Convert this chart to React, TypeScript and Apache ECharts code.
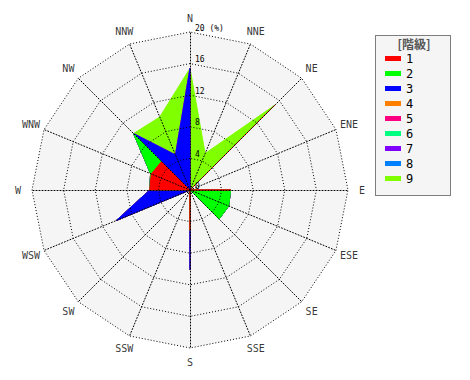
import React, { useEffect, useRef } from "react";
import * as echarts from "echarts";

// Directions, clockwise from north
const directions = ["N", "NNE", "NE", "ENE", "E", "ESE", "SE", "SSE", "S", "SSW", "SW", "WSW", "W", "WNW", "NW", "NNW"];
const classNames = ["1", "2", "3", "4", "5", "6", "7", "8", "9"];
const classColors = ["#ff0000", "#00ff00", "#0000ff", "#ff8000", "#ff0080", "#00ff80", "#8000ff", "#0080ff", "#80ff00"];

// Cumulative frequency (%) per class, clockwise from N
const class1 = [0, 0, 15.2, 0, 5.15, 0, 0, 0, 5.1, 0, 0, 0, 5.1, 5.3, 5.1, 0];
const class2 = [0, 0, 15.2, 0, 5.15, 5.3, 5.2, 0, 5.1, 0, 0, 0, 5.1, 5.4, 10.1, 0];
const class3 = [15.4, 0, 15.2, 0, 5.15, 5.3, 5.2, 0, 10.1, 0, 0, 10.1, 5.1, 5.4, 10.1, 4.8];
const class4 = [15.4, 0, 15.2, 0, 5.15, 5.3, 5.2, 0, 10.1, 0, 0, 10.1, 5.1, 5.4, 10.1, 4.8];
const class5 = [15.4, 0, 15.2, 0, 5.15, 5.3, 5.2, 0, 10.1, 0, 0, 10.1, 5.1, 5.4, 10.1, 4.8];
const class6 = [15.4, 0, 15.2, 0, 5.15, 5.3, 5.2, 0, 10.1, 0, 0, 10.1, 5.1, 5.4, 10.1, 4.8];
const class7 = [15.4, 0, 15.2, 0, 5.15, 5.3, 5.2, 0, 10.1, 0, 0, 10.1, 5.1, 5.4, 10.1, 4.8];
const class8 = [15.4, 0, 15.2, 0, 5.15, 5.3, 5.2, 0, 10.1, 0, 0, 10.1, 5.1, 5.4, 10.1, 4.8];
const class9 = [15.4, 5.0, 15.2, 0, 5.15, 5.3, 5.2, 0, 10.1, 0, 0, 10.1, 5.1, 5.4, 10.1, 10.0];

const axisMax = 20;
const axisSplit = 5;

export default function App() {
  const ref = useRef<HTMLDivElement>(null);

  useEffect(() => {
    if (!ref.current) return;
    const chart = echarts.init(ref.current, undefined, { renderer: "svg" });
    const allClasses = [class1, class2, class3, class4, class5, class6, class7, class8, class9];
    // radar indicators run counter-clockwise: N, NNW, NW, ...
    const order = [0];
    for (let i = directions.length - 1; i >= 1; i--) order.push(i);

    const baseIndicator = () => order.map((idx) => ({ name: directions[idx], max: axisMax, min: 0 } as any));
    const overlayIndicator = baseIndicator();
    overlayIndicator[0].axisLabel = {
      show: true,
      color: "#000",
      fontSize: 8,
      fontFamily: "DejaVu Sans Mono",
      align: "left",
      verticalAlign: "bottom",
      margin: -5,
      formatter: (v: number) => (v === axisMax ? v + " (%)" : String(v)),
    };

    const center = [190, 190];
    const radius = 158;
    const dotted = { color: "#000", type: [1, 2], width: 1 };

    const data = allClasses
      .map((vals, i) => ({
        name: classNames[i],
        value: order.map((idx) => vals[idx]),
        itemStyle: { color: classColors[i] },
        lineStyle: { color: classColors[i], width: 1 },
        areaStyle: { color: classColors[i], opacity: 1 },
      }))
      .reverse();

    chart.setOption({
      animation: false,
      radar: [
        {
          z: 0,
          center,
          radius,
          shape: "polygon",
          splitNumber: axisSplit,
          indicator: baseIndicator(),
          axisName: { show: false },
          axisLine: { show: false },
          splitLine: { show: false },
          splitArea: { show: true, areaStyle: { color: ["#f5f5f5"] } },
          axisLabel: { show: false },
        },
        {
          z: 5,
          center,
          radius,
          shape: "polygon",
          splitNumber: axisSplit,
          indicator: overlayIndicator,
          axisName: { show: false },
          axisLine: { lineStyle: dotted },
          splitLine: { lineStyle: dotted },
          splitArea: { show: false },
          axisLabel: { show: false },
        },
      ],
      polar: { center, radius: 172 },
      angleAxis: {
        type: "category",
        data: directions,
        startAngle: 90,
        clockwise: true,
        boundaryGap: false,
        show: false,
      },
      radiusAxis: { type: "value", min: 0, max: 1, show: false },
      legend: {
        data: classNames,
        orient: "vertical",
        left: 380,
        top: 46,
        icon: "rect",
        itemWidth: 16,
        itemHeight: 5,
        itemGap: 0,
        selectedMode: false,
        textStyle: { color: "#000", fontSize: 12, fontFamily: "DejaVu Sans Mono", lineHeight: 15 },
      },
      graphic: [
        {
          type: "rect",
          z: -1,
          shape: { x: 375.5, y: 35.5, width: 75, height: 160 },
          style: { fill: "#f5f5f5", stroke: "#000", lineWidth: 1, lineDash: [1, 1] },
        },
        {
          type: "text",
          x: 414,
          y: 43,
          style: {
            text: "[階級]",
            fill: "#555",
            font: "bold 12px 'Noto Sans CJK JP'",
            align: "center",
            verticalAlign: "middle",
          },
        },
      ],
      series: [
        {
          type: "radar",
          radarIndex: 0,
          symbol: "none",
          silent: true,
          z: 2,
          emphasis: { disabled: true },
          data,
        },
        {
          type: "scatter",
          coordinateSystem: "polar",
          silent: true,
          symbolSize: 0,
          itemStyle: { color: "#000" },
          label: {
            show: true,
            position: "inside",
            color: "#000",
            textBorderWidth: 0,
            fontSize: 10,
            fontFamily: "DejaVu Sans Mono",
            formatter: (p: any) => p.value[1],
          },
          data: directions.map((d) => [1, d]),
        },
      ],
    });
    return () => chart.dispose();
  }, []);

  return (
    <div
      ref={ref}
      style={{ position: "fixed", left: 0, top: 0, width: 470, height: 380, background: "#fff" }}
    />
  );
}
